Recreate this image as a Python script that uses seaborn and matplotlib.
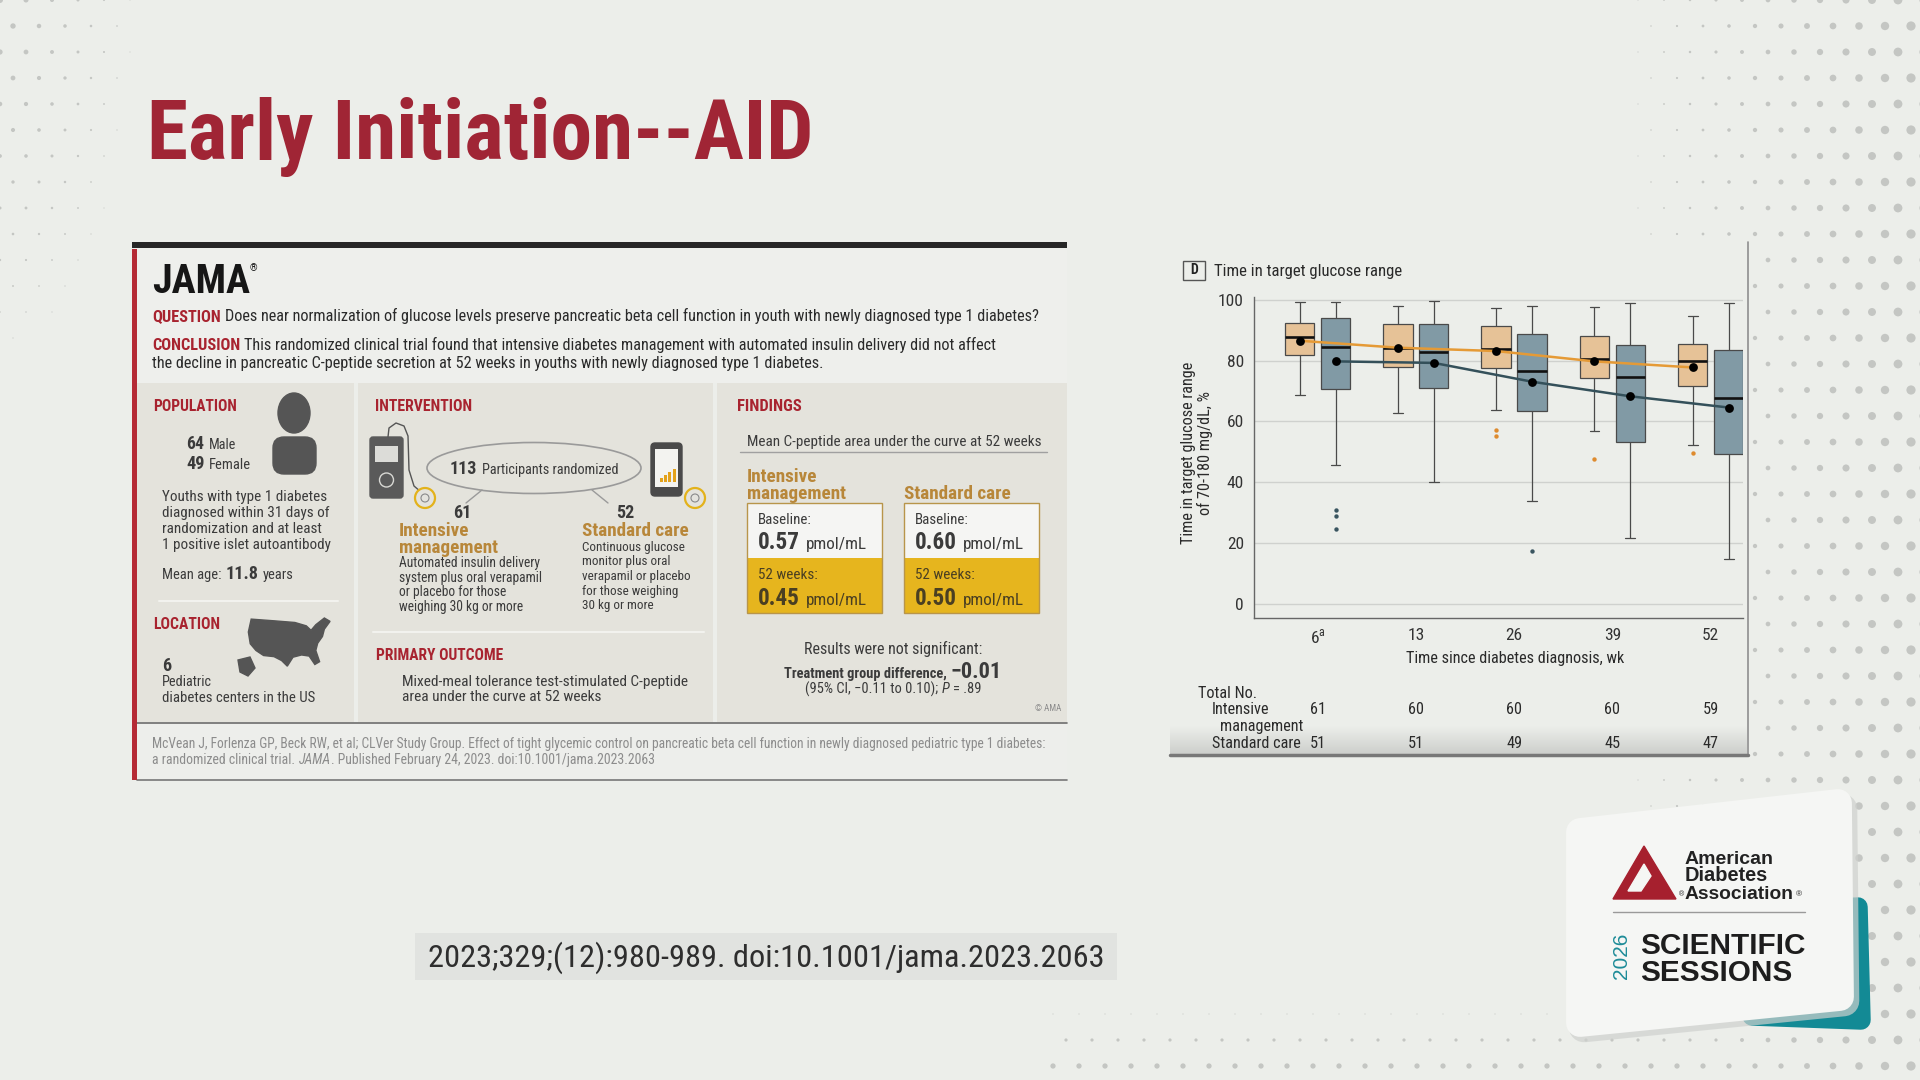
import numpy as np
import pandas as pd
import matplotlib
matplotlib.use("Agg")
import matplotlib.pyplot as plt
import matplotlib.patches as mpatches
import matplotlib.transforms as mtransforms
from matplotlib import font_manager
from matplotlib.colors import LinearSegmentedColormap
import seaborn as sns

# Data: time in target glucose range (panel D)

weeks = ["6", "13", "26", "39", "52"]
week_labels = ["6$^{\\mathregular{a}}$", "13", "26", "39", "52"]
groups = ["Intensive management", "Standard care"]

int_low = [68.8, 62.9, 63.9, 56.8, 52.4]
int_q1 = [81.8, 77.9, 77.7, 74.2, 71.6]
int_med = [87.9, 84.2, 83.9, 80.7, 80.0]
int_q3 = [92.4, 92.0, 91.3, 88.2, 85.6]
int_high = [99.2, 98.1, 97.3, 97.8, 94.8]
int_mean = [86.6, 84.3, 83.2, 79.8, 77.8]
int_out_week = ["26", "26", "39", "52"]
int_out_val = [57.1, 55.3, 47.7, 49.6]

std_low = [45.7, 40.0, 33.9, 21.6, 14.8]
std_q1 = [70.6, 71.0, 63.4, 53.3, 49.2]
std_med = [84.4, 82.9, 76.6, 74.7, 67.7]
std_q3 = [94.2, 92.2, 88.9, 85.1, 83.6]
std_high = [99.4, 99.7, 98.0, 98.9, 98.9]
std_mean = [79.8, 79.3, 73.1, 68.3, 64.6]
std_out_week = ["6", "6", "6", "26"]
std_out_val = [30.7, 28.9, 24.6, 17.3]

n_int = [61, 60, 60, 60, 59]
n_std = [51, 51, 49, 45, 47]

# Colours

BG = "#ECEEEA"
TOP = "#EEEFEC"
BEIGE = "#E4E3DC"
RED = "#A8232F"
TITLE = "#A02535"
GOLD = "#B8873A"
TXT = "#3b3b3b"
GRAY = "#8c8c8c"
ORANGE_BOX = "#F3C38A"
BLUE_BOX = "#7B9CAB"
ORANGE_LINE = "#E59A36"
BLUE_LINE = "#34505A"
ORANGE_OUT = "#DE8B2F"
BLUE_OUT = "#3A5560"

sns.set_style("white")

names = {f.name for f in font_manager.fontManager.ttflist}
COND = "DejaVu Sans"
for cand in ["Liberation Sans Narrow", "Roboto Condensed", "Open Sans Condensed",
             "Noto Sans Condensed", "DejaVu Sans"]:
    if cand in names:
        COND = cand
        break
FAM = [COND, "DejaVu Sans"]
plt.rcParams["font.family"] = FAM
plt.rcParams["font.stretch"] = "condensed"
plt.rcParams["mathtext.fontset"] = "custom"
plt.rcParams["mathtext.rm"] = COND

fig = plt.figure(figsize=(19.2, 10.8), dpi=100, facecolor=BG)
bg = fig.add_axes([0, 0, 1, 1], zorder=0)
bg.set_xlim(0, 1920)
bg.set_ylim(1080, 0)
bg.axis("off")
R = fig.canvas.get_renderer()


def rect(x0, y0, x1, y1, color, **kw):
    bg.add_patch(mpatches.Rectangle((x0, y0), x1 - x0, y1 - y0, facecolor=color,
                                    lw=kw.pop("lw", 0), **kw))


def P(s, color=TXT, weight="normal", rel=1.0, style="normal", gap=True):
    return dict(s=s, color=color, weight=weight, rel=rel, style=style, gap=gap)


def say(x, yc, parts, size, width=None, ha="left", family=None, color=TXT, weight="normal"):
    fam = family or FAM
    if isinstance(parts, str):
        parts = [P(parts, color=color, weight=weight)]
    ts = []
    for p in parts:
        ts.append(bg.text(0, 0, p["s"], color=p["color"], fontweight=p["weight"],
                          fontstyle=p["style"], fontsize=size * p["rel"], family=fam,
                          va="baseline", ha="left", zorder=5))

    def measure():
        ws = [t.get_window_extent(R).width for t in ts]
        gs = [0.26 * t.get_fontsize() * 1.389 if p["gap"] else 0 for t, p in zip(ts, parts)]
        gs[-1] = 0
        return ws, gs

    if width:
        ws, gs = measure()
        k = width / (sum(ws) + sum(gs))
        for t in ts:
            t.set_fontsize(t.get_fontsize() * k)
    ws, gs = measure()
    total = sum(ws) + sum(gs)
    x0 = {"left": x, "center": x - total / 2, "right": x - total}[ha]
    big = max(t.get_fontsize() for t in ts)
    base = yc + 0.36 * big * 1.389
    for t, w, g in zip(ts, ws, gs):
        t.set_position((x0, base))
        x0 += w + g
    return ts[0].get_fontsize() / parts[0]["rel"]


def para(x, y0, dy, lines, width, color=TXT):
    size = say(x, y0, lines[0], 10, width=width, color=color)
    for i, s in enumerate(lines[1:], start=1):
        say(x, y0 + i * dy, s, size, color=color)
    return size


# background halftone dots
gx, gy = np.meshgrid(np.arange(0, 1950, 26.0), np.arange(0, 1100, 26.0))
gx[1::2] += 13
right = np.clip((gx - 1580) / 330, 0, 1) ** 1.2
corner = np.clip(1 - np.hypot(gx / 160, gy / 420), 0, 1)
bottom = np.clip((gy - 1000) / 80, 0, 1) * (gx > 1050)
rad = np.maximum.reduce([right * 4.6, corner * 3.0, bottom * 3.2])
mask = rad > 0.5
mask &= ~((gx > 1160) & (gx < 1752) & (gy > 235) & (gy < 762))
bg.scatter(gx[mask], gy[mask], s=(rad[mask] * 1.44) ** 2, color="#c4c6c3", lw=0, zorder=0)

# slide title
say(147, 129, "Early Initiation--AID", 56, width=666, color=TITLE, weight="bold")

# ---------------- JAMA infographic ----------------
rect(132, 242, 1067, 248, "#262626", zorder=1)
rect(137, 250, 1067, 383, TOP, zorder=1)
rect(137, 383, 354, 722, BEIGE, zorder=1)
rect(358, 383, 713, 722, BEIGE, zorder=1)
rect(717, 383, 1067, 722, BEIGE, zorder=1)
rect(137, 724, 1067, 779, "#EDEEEB", zorder=1)
bg.plot([137, 1067], [723, 723], color="#6d6d6d", lw=1.2, zorder=2)
bg.plot([137, 1067], [779.5, 779.5], color="#777777", lw=1.2, zorder=2)
rect(132, 249, 137, 780, "#B52A35", zorder=2)

say(152, 279, "JAMA", 30, width=98, color="#161616", weight="bold")
bg.text(250, 268, "®", fontsize=7, color="#161616", ha="left", va="center", zorder=5)
say(152, 315, [P("QUESTION", color=RED, weight="bold"),
               P("Does near normalization of glucose levels preserve pancreatic beta cell "
                 "function in youth with newly diagnosed type 1 diabetes?", color="#2a2a2a")],
    11, width=888)
csize = say(152, 344, [P("CONCLUSION", color=RED, weight="bold"),
                       P("This randomized clinical trial found that intensive diabetes management "
                         "with automated insulin delivery did not affect", color="#2a2a2a")],
            11, width=847)
say(152, 362, "the decline in pancreatic C-peptide secretion at 52 weeks in youths with newly "
    "diagnosed type 1 diabetes.", csize, color="#2a2a2a")

# population
say(153, 405, "POPULATION", 9, width=85, color=RED, weight="bold")
bg.add_patch(mpatches.Ellipse((294, 413), 32, 40, color="#555555", zorder=3))
bg.add_patch(mpatches.FancyBboxPatch((273, 437), 43, 37, boxstyle="round,pad=0,rounding_size=11",
                                     color="#555555", zorder=3))
say(186, 443, [P("64", weight="bold", rel=1.25), P("Male")], 10, width=50)
say(186, 462, [P("49", weight="bold", rel=1.25), P("Female")], 10, width=65)
para(162, 496, 15.7, ["Youths with type 1 diabetes", "diagnosed within 31 days of",
                      "randomization and at least", "1 positive islet autoantibody"], 163)
say(162, 572, [P("Mean age:"), P("11.8", weight="bold", rel=1.25), P("years")], 10, width=131)
bg.plot([159, 338], [601, 601], color="#f2f2ee", lw=1.5, zorder=3)
say(153, 623, "LOCATION", 9, width=67, color=RED, weight="bold")
us = np.array([(0.16, 0.02), (0.40, 0.05), (0.62, 0.08), (0.74, 0.14), (0.79, 0.22), (0.84, 0.12),
               (0.93, 0.00), (0.99, 0.06), (0.93, 0.20), (0.91, 0.33), (0.86, 0.45), (0.84, 0.58),
               (0.88, 0.78), (0.83, 0.83), (0.77, 0.68), (0.69, 0.66), (0.60, 0.70), (0.54, 0.86),
               (0.48, 0.76), (0.40, 0.69), (0.29, 0.67), (0.21, 0.58), (0.15, 0.46), (0.13, 0.25)])
us_xy = np.column_stack([236 + us[:, 0] * 95, 618 + us[:, 1] * 56])
bg.add_patch(mpatches.Polygon(us_xy, closed=True, color="#555555", zorder=3))
bg.add_patch(mpatches.Polygon([(238, 660), (250, 657), (255, 668), (248, 676), (240, 672)],
                              closed=True, color="#555555", zorder=3))
say(162, 664, "6", 13, color=TXT, weight="bold")
say(162, 681, "Pediatric", 10.3)
say(162, 697, "diabetes centers in the US", 10, width=152)

# intervention
say(375, 405, "INTERVENTION", 9, width=98, color=RED, weight="bold")
bg.add_patch(mpatches.FancyBboxPatch((370, 437), 33, 61, boxstyle="round,pad=0,rounding_size=3",
                                     color="#5a5a5a", zorder=3))
rect(375, 446, 398, 462, "#dcdcd8", zorder=4)
bg.add_patch(mpatches.Circle((386.5, 480), 7, fill=False, ec="#d8d8d4", lw=1, zorder=4))
bg.plot([388, 389, 396, 404, 408, 409, 414, 421], [437, 428, 423, 426, 436, 470, 486, 492],
        color="#555555", lw=1, zorder=3)
for cx in (425, 695):
    bg.add_patch(mpatches.Circle((cx, 498), 10, fc="#e4e3dd", ec="#E3B21B", lw=1.6, zorder=4))
    bg.add_patch(mpatches.Circle((cx, 498), 4, fill=False, ec="#8a8a8a", lw=0.8, zorder=4))
bg.add_patch(mpatches.FancyBboxPatch((651, 443), 31, 53, boxstyle="round,pad=0,rounding_size=4",
                                     color="#4a4a4a", zorder=3))
rect(655, 449, 678, 487, "#f3f3f0", zorder=4)
for i, h in enumerate([4, 7, 10, 13]):
    rect(660 + i * 4.2, 482 - h, 663 + i * 4.2, 482, "#E3A21B", zorder=5)
bg.add_patch(mpatches.Ellipse((534, 468), 214, 51, fill=False, ec="#9a9a9a", lw=1.2, zorder=3))
say(534, 468, [P("113", weight="bold", rel=1.25), P("Participants randomized")], 10,
    width=169, ha="center")
bg.plot([482, 466], [490, 503], color="#9a9a9a", lw=1, zorder=3)
bg.plot([592, 608], [490, 503], color="#9a9a9a", lw=1, zorder=3)
say(453, 511, "61", 13, weight="bold")
say(616, 511, "52", 13, weight="bold")
gsize = say(399, 529, "Intensive", 12, width=70, color=GOLD, weight="bold")
say(399, 546, "management", gsize, color=GOLD, weight="bold")
para(399, 562, 14.7, ["Automated insulin delivery", "system plus oral verapamil",
                      "or placebo for those", "weighing 30 kg or more"], 140)
say(582, 529, "Standard care", gsize, color=GOLD, weight="bold")
para(582, 546, 14.6, ["Continuous glucose", "monitor plus oral", "verapamil or placebo",
                      "for those weighing", "30 kg or more"], 102)
bg.plot([373, 704], [632, 632], color="#f2f2ee", lw=1.5, zorder=3)
say(376, 654, "PRIMARY OUTCOME", 9, width=128, color=RED, weight="bold")
para(402, 680, 15, ["Mixed-meal tolerance test-stimulated C-peptide",
                    "area under the curve at 52 weeks"], 284)

# findings
say(737, 405, "FINDINGS", 9, width=65, color=RED, weight="bold")
say(747, 441, "Mean C-peptide area under the curve at 52 weeks", 10, width=291)
bg.plot([740, 1047], [452, 452], color="#a0a0a0", lw=1, zorder=3)
say(747, 475, "Intensive", gsize, color=GOLD, weight="bold")
say(747, 492, "management", gsize, color=GOLD, weight="bold")
say(904, 492, "Standard care", gsize, color=GOLD, weight="bold")
for bx, base_v, wk_v in [(747, "0.57", "0.45"), (904, "0.60", "0.50")]:
    rect(bx, 503, bx + 135, 558, "#F5F5F3", zorder=3)
    rect(bx, 558, bx + 135, 613, "#E6B51E", zorder=3)
    bg.add_patch(mpatches.Rectangle((bx, 503), 135, 110, fill=False, ec="#B8954A", lw=1, zorder=4))
    say(bx + 11, 519, "Baseline:", 9.5, width=54)
    say(bx + 11, 541, [P(base_v, weight="bold", rel=1.35), P("pmol/mL")], 10, width=109)
    say(bx + 11, 574, "52 weeks:", 9.5, width=60, color="#4a3f22")
    say(bx + 11, 597, [P(wk_v, weight="bold", rel=1.35, color="#4a3f22"),
                       P("pmol/mL", color="#4a3f22")], 10, width=109)
say(893, 648, "Results were not significant:", 10.5, width=181, ha="center")
say(893, 670, [P("Treatment group difference,", weight="bold"),
               P("\u22120.01", weight="bold", rel=1.55)], 9, width=218, ha="center")
say(893, 688, [P("(95% CI, \u22120.11 to 0.10);"), P("P", style="italic"), P("= .89")],
    9, width=177, ha="center")
say(1061, 708, "\u00a9 AMA", 6.5, color=GRAY, ha="right")

# citation
say(152, 743, "McVean J, Forlenza GP, Beck RW, et al; CLVer Study Group. Effect of tight glycemic "
    "control on pancreatic beta cell function in newly diagnosed pediatric type 1 diabetes:",
    8, width=894, color=GRAY)
say(152, 759, [P("a randomized clinical trial.", color=GRAY),
               P("JAMA", color=GRAY, style="italic", gap=False),
               P(". Published February 24, 2023. doi:10.1001/jama.2023.2063", color=GRAY)],
    8, width=506)

# doi box
rect(415, 933, 1117, 980, "#E1E3E0", zorder=1)
say(766, 955, "2023;329;(12):980-989. doi:10.1001/jama.2023.2063", 22, width=676,
    ha="center", color="#2e2e2e")

# ADA logo card
bg.add_patch(mpatches.Polygon([(1750, 912), (1858, 907), (1861, 1020), (1752, 1016)], closed=True,
                              fc="#138A95", ec="#138A95", lw=14, joinstyle="round", zorder=2))
bg.add_patch(mpatches.Polygon([(1584, 838), (1842, 809), (1844, 1001), (1584, 1027)], closed=True,
                              fc="#cfd1ce", ec="#cfd1ce", lw=22, joinstyle="round", zorder=2,
                              alpha=0.7))
bg.add_patch(mpatches.Polygon([(1580, 832), (1838, 803), (1840, 997), (1580, 1023)], closed=True,
                              fc="#F5F6F4", ec="#F5F6F4", lw=20, joinstyle="round", zorder=3))
bg.add_patch(mpatches.Polygon([(1644, 846), (1613, 899), (1676, 899)], closed=True,
                              color="#A6202E", zorder=4))
bg.add_patch(mpatches.Polygon([(1628, 891), (1644, 864), (1651, 876), (1641, 891)], closed=True,
                              color="#F5F6F4", zorder=5))
logo = ["Liberation Sans", "DejaVu Sans"]
say(1685, 857, "American", 15, width=89, family=logo, color="#222222", weight="bold")
say(1685, 874, "Diabetes", 15, width=84, family=logo, color="#222222", weight="bold")
say(1685, 892, "Association", 15, width=110, family=logo, color="#222222", weight="bold")
bg.text(1796, 895, "®", fontsize=6, color="#222222", family=logo, va="center", zorder=5)
bg.text(1679, 895, "®", fontsize=5, color="#222222", family=logo, va="center", zorder=5)
bg.plot([1613, 1805], [912, 912], color="#9a9a9a", lw=1, zorder=5)
ssz = say(1640, 943, "SCIENTIFIC", 22, width=165, family=logo, color="#1d1d1d", weight="bold")
say(1640, 970, "SESSIONS", ssz, family=logo, color="#1d1d1d", weight="bold")
bg.text(1622, 956, "2026", rotation=90, ha="center", va="center", fontsize=15,
        color="#1E8C98", family=logo, zorder=5)

# ---------------- Panel D chart ----------------
bg.plot([1747.5, 1747.5], [242, 755], color="#8f8f8f", lw=1.2, zorder=2)
grad = LinearSegmentedColormap.from_list("g", [BG, "#cdcfcc"])
bg.imshow(np.linspace(0, 1, 40)[:, None], cmap=grad, extent=(1170, 1747, 754, 726),
          aspect="auto", origin="upper", zorder=1)
bg.plot([1170, 1748], [754.5, 754.5], color="#787878", lw=2.5, zorder=2)
bg.set_xlim(0, 1920)
bg.set_ylim(1080, 0)

bg.add_patch(mpatches.Rectangle((1183, 261), 22, 19, fill=False, ec="#555555", lw=1, zorder=5))
bg.text(1194, 270.5, "D", ha="center", va="center", fontsize=10, fontweight="bold",
        color="#222222", zorder=6)
say(1214, 270, "Time in target glucose range", 12, width=188, color="#2a2a2a")

box_rows = []
for grp, stats in [(groups[0], [int_low, int_q1, int_med, int_q3, int_high]),
                   (groups[1], [std_low, std_q1, std_med, std_q3, std_high])]:
    for i in range(len(weeks)):
        for s in stats:
            box_rows.append({"pos": i, "group": grp, "value": s[i]})
box_df = pd.DataFrame(box_rows)

ax = fig.add_axes([1253.7 / 1920, 1 - 618.2 / 1080, 489.4 / 1920, 321.2 / 1080], zorder=2)
ax.set_facecolor("none")
sns.boxplot(data=box_df, x="pos", y="value", hue="group", hue_order=groups,
            palette={groups[0]: ORANGE_BOX, groups[1]: BLUE_BOX}, orient="x",
            width=0.73, gap=0.18, whis=(0, 100), linecolor="#4a4a4a", linewidth=0.9,
            medianprops={"color": "#111111", "linewidth": 1.9}, capwidths=0.1,
            legend=False, ax=ax)

off = 0.1825
pos = np.arange(len(weeks))
sns.lineplot(x=pos - off, y=int_mean, color=ORANGE_LINE, lw=1.8, ax=ax, zorder=4)
sns.lineplot(x=pos + off, y=std_mean, color=BLUE_LINE, lw=1.8, ax=ax, zorder=4)
sns.scatterplot(x=np.concatenate([pos - off, pos + off]), y=int_mean + std_mean,
                color="black", s=40, lw=0, ax=ax, zorder=5)
sns.scatterplot(x=[weeks.index(w) - off for w in int_out_week], y=int_out_val,
                color=ORANGE_OUT, s=10, lw=0, ax=ax, zorder=5)
sns.scatterplot(x=[weeks.index(w) + off for w in std_out_week], y=std_out_val,
                color=BLUE_OUT, s=10, lw=0, ax=ax, zorder=5)

ax.set_xlim(-0.65, 4.33)
ax.set_ylim(-4.78, 101)
ax.set_xticks(pos, week_labels)
ax.set_yticks(range(0, 101, 20))
ax.yaxis.grid(True, color="#cfd1ce", lw=1)
ax.xaxis.grid(False)
ax.set_axisbelow(True)
sns.despine(ax=ax)
for sp in ("left", "bottom"):
    ax.spines[sp].set_color("#666666")
    ax.spines[sp].set_linewidth(1)
ax.tick_params(axis="both", labelsize=12.5, labelcolor="#333333", length=4, width=0.8,
               color="#666666", pad=3)
ax.set_xlabel("Time since diabetes diagnosis, wk", fontsize=12.5, color="#2a2a2a")
ax.set_ylabel("Time in target glucose range\nof 70-180 mg/dL, %", fontsize=12.5,
              color="#2a2a2a", linespacing=1.0)
ax.xaxis.label.set_va("center")
ax.yaxis.label.set_va("center")
ax.xaxis.set_label_coords((1515 - 1253.7) / 489.4, (618.2 - 659) / 321.2)
ax.yaxis.set_label_coords((1197 - 1253.7) / 489.4, (618.2 - 453) / 321.2)
xl = ax.xaxis.label
xl.set_fontsize(12.5 * 221 / xl.get_window_extent(R).width)
ax.yaxis.label.set_fontsize(xl.get_fontsize())

# counts table under the axis
tb = mtransforms.blended_transform_factory(ax.transData, bg.transData)
tsize = xl.get_fontsize()
bg.text(1198, 693, "Total No.", fontsize=tsize, color="#2a2a2a", va="center", zorder=5)
bg.text(1212, 710, "Intensive", fontsize=tsize, color="#2a2a2a", va="center", zorder=5)
bg.text(1220, 727, "management", fontsize=tsize, color="#2a2a2a", va="center", zorder=5)
bg.text(1212, 744, "Standard care", fontsize=tsize, color="#2a2a2a", va="center", zorder=5)
for i in range(len(weeks)):
    ax.text(i, 710, str(n_int[i]), transform=tb, ha="center", va="center", fontsize=tsize,
            color="#2a2a2a", clip_on=False)
    ax.text(i, 744, str(n_std[i]), transform=tb, ha="center", va="center", fontsize=tsize,
            color="#2a2a2a", clip_on=False)

fig.savefig("out.png", dpi=100, facecolor=BG)
